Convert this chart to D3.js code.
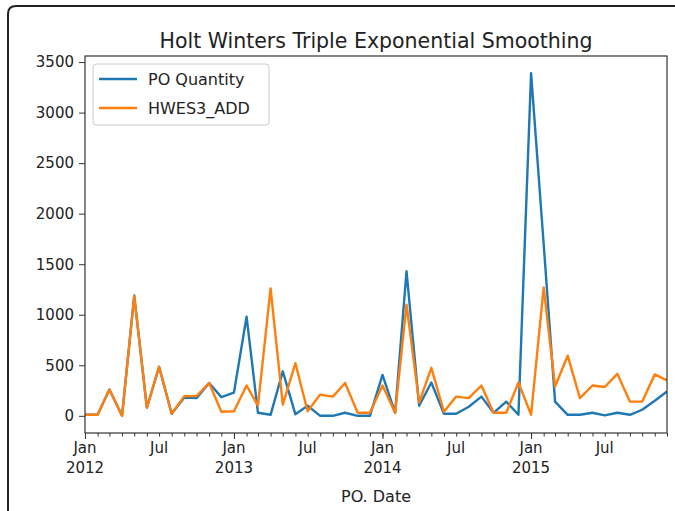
<!DOCTYPE html>
<html><head><meta charset="utf-8">
<script src="https://cdn.jsdelivr.net/npm/d3@7"></script>
<style>body{margin:0;background:#fff}svg{display:block}text{font-family:"DejaVu Sans",sans-serif;fill:#222}</style>
</head><body>
<svg id="c" width="675" height="511"></svg>
<script>
const poQuantity = [10,10,260,0,1190,80,485,20,180,175,325,185,
  230,980,30,10,440,15,100,0,0,30,0,0,
  405,30,1430,100,330,20,20,90,190,30,140,10,
  3390,1700,140,10,10,30,5,30,10,60,150,240];
const hwes3Add = [10,10,260,0,1185,80,485,20,195,195,325,40,
  45,300,100,1260,110,520,45,210,190,325,30,30,
  300,30,1100,130,475,40,190,175,300,30,30,330,
  10,1270,290,595,175,300,285,415,140,140,410,350];
const seriesNames = ["PO Quantity","HWES3_ADD"];
const colors = ["#1f77b4","#ff7f0e"];
const yTicks = [0,500,1000,1500,2000,2500,3000,3500];
const title = "Holt Winters Triple Exponential Smoothing";
const xLabel = "PO. Date";

const svg = d3.select("#c");
const L=85,R=667,T=56,B=433;
const dates = poQuantity.map((_,i)=>new Date(2012, i, 1));
const x = d3.scaleTime().domain([dates[0], dates[dates.length-1]]).range([L,R]);
const y = d3.scaleLinear().domain([-170,3560]).range([B,T]);

// screenshot frame
svg.append("path").attr("d","M8,511 L8,14 Q8,6 16,6 L675,6").attr("fill","none").attr("stroke","#222").attr("stroke-width",2);

const line = d3.line().x((d,i)=>x(dates[i])).y(d=>y(d));
svg.append("defs").append("clipPath").attr("id","clip").append("rect").attr("x",L).attr("y",T).attr("width",R-L).attr("height",B-T);
[poQuantity,hwes3Add].forEach((s,k)=>{
  svg.append("path").datum(s).attr("d",line).attr("fill","none").attr("stroke",colors[k]).attr("stroke-width",2.4).attr("stroke-linejoin","round").attr("clip-path","url(#clip)");
});

// frame
svg.append("rect").attr("x",L).attr("y",T).attr("width",R-L).attr("height",B-T).attr("fill","none").attr("stroke","#333").attr("stroke-width",1.2);

// y axis
const ya = svg.append("g").attr("transform",`translate(${L},0)`).call(d3.axisLeft(y).tickValues(yTicks).tickSize(6).tickPadding(5).tickFormat(d3.format("d")));
ya.select(".domain").remove();
ya.selectAll("text").style("font-size","15px").attr("fill","#222");
ya.selectAll("line").attr("stroke","#333");

// x axis: minor month ticks, major Jan
const xa = svg.append("g").attr("transform",`translate(0,${B})`).call(d3.axisBottom(x).tickValues(dates).tickSize(3.5).tickFormat(""));
xa.select(".domain").remove();
xa.selectAll("line").attr("stroke","#333");
const jans = dates.filter(d=>d.getMonth()===0);
const xb = svg.append("g").attr("transform",`translate(0,${B})`).call(d3.axisBottom(x).tickValues(jans).tickSize(6).tickFormat(""));
xb.select(".domain").remove();
xb.selectAll("line").attr("stroke","#333");
const fmtM = d3.timeFormat("%b"), fmtY = d3.timeFormat("%Y");
dates.filter(d=>d.getMonth()===0||d.getMonth()===6).forEach(d=>{
  const t = svg.append("text").attr("x",x(d)).attr("text-anchor","middle").style("font-size","15px");
  t.append("tspan").attr("x",x(d)).attr("y",B+20).text(fmtM(d));
  if(d.getMonth()===0) t.append("tspan").attr("x",x(d)).attr("y",B+40).text(fmtY(d));
});

svg.append("text").attr("x",(L+R)/2).attr("y",B+69).attr("text-anchor","middle").style("font-size","16px").text(xLabel);
svg.append("text").attr("x",(L+R)/2).attr("y",48).attr("text-anchor","middle").style("font-size","20.5px").text(title);

// legend
const lg = svg.append("g");
lg.append("rect").attr("x",93).attr("y",64).attr("width",176).attr("height",61).attr("rx",3).attr("fill","#fff").attr("fill-opacity",0.8).attr("stroke","#ccc");
seriesNames.forEach((n,k)=>{
  const yy = 79 + k*29;
  lg.append("line").attr("x1",99).attr("x2",137).attr("y1",yy).attr("y2",yy).attr("stroke",colors[k]).attr("stroke-width",2.4);
  lg.append("text").attr("x",148).attr("y",yy+6).style("font-size","16px").text(n);
});
</script>
</body></html>
